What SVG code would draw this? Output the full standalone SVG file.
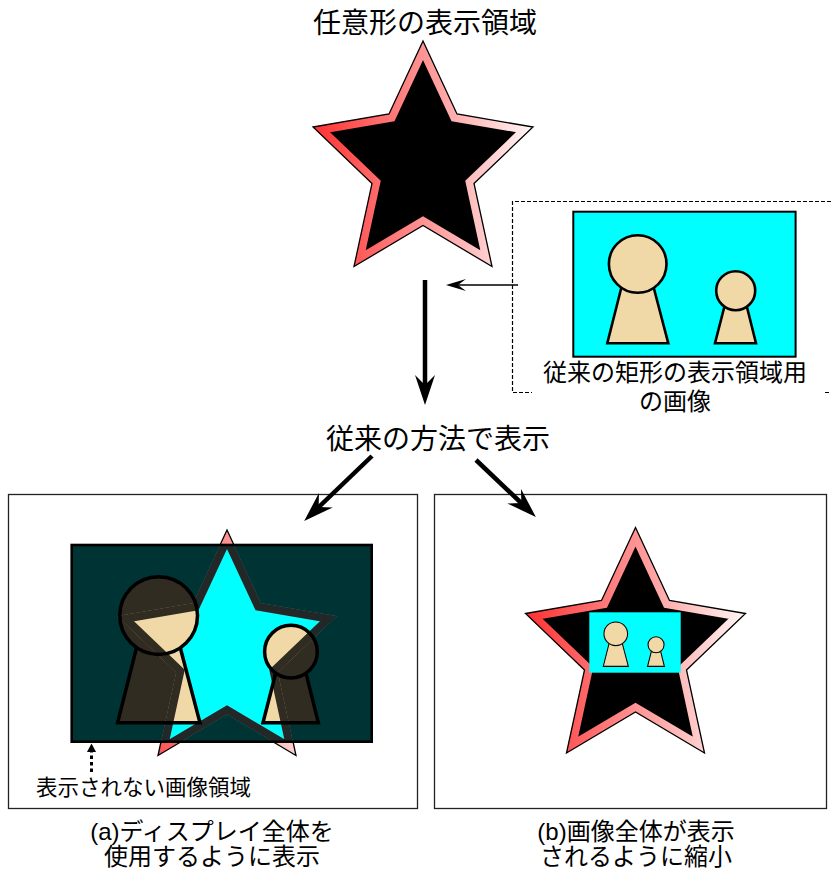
<svg xmlns="http://www.w3.org/2000/svg" width="831" height="870" viewBox="0 0 831 870">
<style>
  text { font-family: "Liberation Sans", "Noto Sans CJK JP", sans-serif; fill: #000; }
  .skin { fill: #f0d9a6; stroke: #000; stroke-width: 2.6; }
  .panel { fill: none; stroke: #222; stroke-width: 1.3; }
  .conn { fill: none; stroke: #000; }
  .photo { fill: #00ffff; }
</style>
<defs>
  <!-- five-pointed star, centred on its own origin -->
  <path id="star" d="M0,-124.5 L34,-51.5 L110,-38.5 L51,18 L69,101 L0,60 L-69,101 L-51,18 L-110,-38.5 L-34,-51.5 Z"/>
  <clipPath id="starClip"><use href="#star"/></clipPath>
  <linearGradient id="band" x1="0" y1="0" x2="1" y2="0">
    <stop offset="0" stop-color="#ff3030"/>
    <stop offset="1" stop-color="#fff6f6"/>
  </linearGradient>
  <!-- two figures, in the coordinates of a 222.3 x 145 picture -->
  <g id="figures">
    <polygon class="skin" points="48.7,73.3 79.7,73.3 95,131.6 34,131.6"/>
    <circle class="skin" cx="64.4" cy="52.3" r="28.8"/>
    <polygon class="skin" points="152.8,88.3 171.9,88.3 182.7,131.6 141.7,131.6"/>
    <circle class="skin" cx="162.4" cy="79" r="19.5"/>
  </g>
  <!-- everything except the inside of the star's rim -->
  <mask id="outsideInner" maskUnits="userSpaceOnUse" x="-200" y="-160" width="400" height="320">
    <rect x="-200" y="-160" width="400" height="320" fill="#fff"/>
    <g clip-path="url(#starClip)"><use href="#star" fill="#000" stroke="#fff" stroke-width="16"/></g>
  </mask>
  <clipPath id="photoClipA"><rect x="-155.3" y="-109.5" width="300" height="196.7"/></clipPath>
  <marker id="headThick" markerUnits="userSpaceOnUse" markerWidth="30" markerHeight="20" viewBox="0 0 30 20" refX="12" refY="10" orient="auto">
    <path d="M0,0 L30,10 L0,20 L10,10 Z" fill="#000"/>
  </marker>
  <marker id="headThin" markerUnits="userSpaceOnUse" markerWidth="20" markerHeight="12" viewBox="0 0 20 12" refX="9" refY="6" orient="auto">
    <path d="M0,0 L20,6 L0,12 L8,6 Z" fill="#000"/>
  </marker>
</defs>

<rect width="831" height="870" fill="#fff"/>

<!-- arbitrary-shaped display area -->
<g id="title">
  <text x="425" y="33" font-size="28" text-anchor="middle">任意形の表示領域</text>
</g>
<g id="star-display" transform="translate(423,165.5)">
  <g clip-path="url(#starClip)"><use href="#star" fill="#000" stroke="url(#band)" stroke-width="16"/></g>
  <use href="#star" fill="none" stroke="#000" stroke-width="1.3"/>
</g>

<!-- picture made for a rectangular display -->
<g id="source-image">
  <path d="M831,201.5 H512.5 V392.5 H532 M825,392.5 H831" fill="none" stroke="#000" stroke-width="1.2" stroke-dasharray="4 2"/>
  <rect class="photo" x="573.3" y="211.7" width="222.3" height="145" stroke="#000" stroke-width="2"/>
  <use href="#figures" transform="translate(573.3,211.7)"/>
  <text x="675" y="381" font-size="24" text-anchor="middle">従来の矩形の表示領域用</text>
  <text x="675" y="410" font-size="24" text-anchor="middle">の画像</text>
</g>

<g id="method-label">
  <text x="438" y="449" font-size="28" text-anchor="middle">従来の方法で表示</text>
</g>

<!-- (a) picture stretched over the whole display -->
<g id="panel-a">
  <rect class="panel" x="8.5" y="494.5" width="409" height="314"/>
  <g transform="translate(227,654.5)">
    <g clip-path="url(#starClip)"><use href="#star" fill="none" stroke="url(#band)" stroke-width="16"/></g>
    <use href="#star" fill="none" stroke="#000" stroke-width="1.3"/>
    <rect class="photo" x="-155.3" y="-109.5" width="300" height="196.7"/>
    <g clip-path="url(#photoClipA)">
      <g clip-path="url(#starClip)"><use href="#star" fill="none" stroke="#a8c0c0" stroke-width="16"/></g>
    </g>
    <use href="#figures" transform="translate(-155.3,-109.5) scale(1.35)"/>
    <rect x="-155.3" y="-109.5" width="300" height="196.7" fill="#000" fill-opacity="0.8" mask="url(#outsideInner)"/>
    <rect x="-155.3" y="-109.5" width="300" height="196.7" fill="none" stroke="#000" stroke-width="2.6"/>
  </g>
  <line x1="91.5" y1="772" x2="91.5" y2="752" stroke="#000" stroke-width="3" stroke-dasharray="3.5 3"/>
  <polygon points="91.5,743.5 96,752 87,752" fill="#000"/>
  <text x="36" y="795" font-size="21.5">表示されない画像領域</text>
  <text x="212" y="839.5" font-size="24" text-anchor="middle">(a)ディスプレイ全体を</text>
  <text x="212" y="864.5" font-size="24" text-anchor="middle">使用するように表示</text>
</g>

<!-- (b) picture shrunk to fit inside the star -->
<g id="panel-b">
  <rect class="panel" x="434.5" y="494.5" width="392" height="314"/>
  <g transform="translate(635.5,652)">
    <g clip-path="url(#starClip)"><use href="#star" fill="#000" stroke="url(#band)" stroke-width="16"/></g>
    <use href="#star" fill="none" stroke="#000" stroke-width="1.3"/>
  </g>
  <rect class="photo" x="589.3" y="612.3" width="91.4" height="60.4"/>
  <use href="#figures" transform="translate(589.3,612.3) scale(0.411)"/>
  <text x="636" y="839.5" font-size="24" text-anchor="middle">(b)画像全体が表示</text>
  <text x="636" y="864.5" font-size="24" text-anchor="middle">されるように縮小</text>
</g>

<!-- connectors -->
<g id="connectors">
  <line class="conn" x1="518" y1="285" x2="457" y2="285" stroke-width="1.3" marker-end="url(#headThin)"/>
  <line class="conn" x1="425" y1="280" x2="425" y2="387" stroke-width="4.5" marker-end="url(#headThick)"/>
  <line class="conn" x1="372" y1="456" x2="317.2" y2="508.5" stroke-width="4.5" marker-end="url(#headThick)"/>
  <line class="conn" x1="476" y1="460" x2="522.8" y2="504.5" stroke-width="4.5" marker-end="url(#headThick)"/>
</g>
</svg>
